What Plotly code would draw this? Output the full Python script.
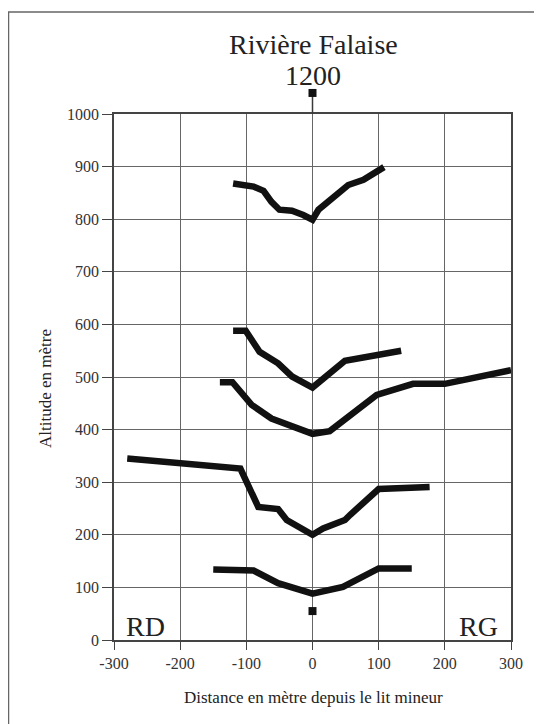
import plotly.graph_objects as go

# Cross-section profiles (distance in m, altitude in m)
p1_x = [-120, -89, -74, -62, -50, -31, -14, 0, 9, 34, 54, 77, 92, 108]
p1_y = [868, 862, 854, 833, 818, 816, 808, 799, 818, 846, 865, 875, 887, 899]

p2_x = [-120, -101, -80, -52, -31, -14, 0, 49, 82, 134]
p2_y = [588, 588, 548, 526, 501, 491, 480, 531, 539, 550]

p3_x = [-140, -121, -92, -62, 0, 26, 97, 152, 200, 300]
p3_y = [490, 490, 447, 421, 392, 397, 466, 487, 487, 513]

p4_x = [-280, -109, -82, -52, -39, 0, 16, 49, 57, 100, 177]
p4_y = [345, 326, 253, 249, 228, 200, 212, 228, 238, 287, 291]

p5_x = [-150, -89, -52, 0, 46, 100, 150]
p5_y = [134, 132, 108, 88, 101, 136, 136]

# river-bed axis markers
axis_x = [0, 0]
axis_y = [55, 1040]

x_ticks = [-300, -200, -100, 0, 100, 200, 300]
y_ticks = [0, 100, 200, 300, 400, 500, 600, 700, 800, 900, 1000]
x_range = [-300, 300]
y_range = [0, 1000]

SERIF = "Liberation Serif, Times New Roman, serif"

# The page body has an 8px margin; figure is sized so it fits the 542x724 window.
W, H = 534, 716
L, R, T, B = 106, 31, 106, 84
PW, PH = W - L - R, H - T - B


def px(xr):   # real window x -> paper
    return (xr - 8 - L) / PW


def py(yr):   # real window y -> paper
    return (H - B - (yr - 8)) / PH


def to_px(v):  # data x -> paper
    return (v - x_range[0]) / (x_range[1] - x_range[0])


def to_py(v):  # data y -> paper
    return (v - y_range[0]) / (y_range[1] - y_range[0])


fig = go.Figure()
for xs, ys in [(p1_x, p1_y), (p2_x, p2_y), (p3_x, p3_y), (p4_x, p4_y), (p5_x, p5_y)]:
    fig.add_trace(go.Scatter(x=xs, y=ys, mode="lines",
                             line=dict(color="#111", width=6.5),
                             showlegend=False))
fig.add_trace(go.Scatter(x=axis_x, y=axis_y, mode="markers",
                         marker=dict(symbol="square", size=8, color="#111"),
                         cliponaxis=False, showlegend=False, hoverinfo="skip"))

shapes = [
    # segment of the axis line running above the plot up to the top marker
    dict(type="line", xref="paper", yref="paper",
         x0=to_px(axis_x[1]), x1=to_px(axis_x[1]),
         y0=1.0, y1=to_py(axis_y[1]),
         line=dict(color="#3a3a3a", width=1.5)),
    # top marker (outside the axis range, so drawn as a pixel-sized shape)
    dict(type="rect", xref="paper", yref="paper",
         xsizemode="pixel", ysizemode="pixel",
         xanchor=to_px(axis_x[1]), yanchor=to_py(axis_y[1]),
         x0=-4, x1=4, y0=-4, y1=4,
         fillcolor="#111", line=dict(color="#111", width=0)),
    # outer frame
    dict(type="rect", xref="paper", yref="paper",
         x0=px(8.5), x1=px(600), y0=py(760), y1=py(12),
         line=dict(color="#666", width=1.5), layer="below"),
]

fig.update_layout(
    width=W, height=H,
    margin=dict(l=L, r=R, t=T, b=B, autoexpand=False),
    paper_bgcolor="white", plot_bgcolor="white",
    font=dict(family=SERIF, color="#333"),
    xaxis=dict(range=x_range, tickvals=x_ticks, ticktext=[str(v) for v in x_ticks],
               showgrid=True, gridcolor="#666", gridwidth=1, zeroline=False,
               showline=True, linecolor="#444", linewidth=1.5, mirror=True,
               ticks="outside", ticklen=8, tickcolor="#444",
               tickfont=dict(size=16, family=SERIF, color="#333")),
    yaxis=dict(range=y_range, tickvals=y_ticks, ticktext=[str(v) for v in y_ticks],
               showgrid=True, gridcolor="#666", gridwidth=1, zeroline=False,
               showline=True, linecolor="#444", linewidth=1.5, mirror=True,
               ticks="outside", ticklen=10, tickcolor="#444",
               tickfont=dict(size=16, family=SERIF, color="#333")),
    annotations=[
        dict(text="Rivière Falaise", x=px(313), y=py(45),
             xref="paper", yref="paper", xanchor="center", yanchor="middle",
             showarrow=False, font=dict(size=28, family=SERIF, color="#222")),
        dict(text="1200", x=px(313), y=py(75),
             xref="paper", yref="paper", xanchor="center", yanchor="middle",
             showarrow=False, font=dict(size=28, family=SERIF, color="#222")),
        dict(text="RD", x=px(145.5), y=py(626), xref="paper", yref="paper",
             xanchor="center", yanchor="middle", showarrow=False,
             font=dict(size=28, family=SERIF, color="#222")),
        dict(text="RG", x=px(478), y=py(626), xref="paper", yref="paper",
             xanchor="center", yanchor="middle", showarrow=False,
             font=dict(size=28, family=SERIF, color="#222")),
        dict(text="Distance en mètre depuis le lit mineur", x=px(313), y=py(697),
             xref="paper", yref="paper", xanchor="center", yanchor="middle",
             showarrow=False, font=dict(size=17, family=SERIF, color="#222")),
        dict(text="Altitude en mètre", x=px(45), y=py(389), textangle=-90,
             xref="paper", yref="paper", xanchor="center", yanchor="middle",
             showarrow=False, font=dict(size=17, family=SERIF, color="#222")),
    ],
    shapes=shapes,
)

fig.write_html("out.html")
